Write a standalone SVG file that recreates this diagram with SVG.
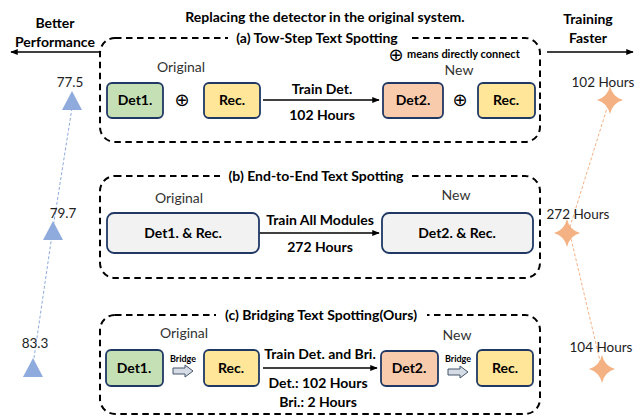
<svg xmlns="http://www.w3.org/2000/svg" width="640" height="417" viewBox="0 0 640 417">
<defs>
<style>
.t{font-family:Lato,"Liberation Sans",sans-serif;fill:#000}
.b{font-weight:bold}
.hdr{font-size:14px;font-weight:bold}
.lbl{font-size:14px;font-weight:bold}
.orig{font-size:14px;fill:#333}
.val{font-size:13.5px;fill:#222}
.frame{fill:none;stroke:#000;stroke-width:2;stroke-dasharray:6.5 4.5}
.node{stroke:#203864;stroke-width:1.8}
.g{fill:#c5e0b4}.y{fill:#ffe699}.o{fill:#f8cbad}.gr{fill:#f2f2f2}
.conn{stroke:#000;stroke-width:1.5;fill:none}
.sym{font-family:"DejaVu Sans",sans-serif;font-size:18px}
.bridge{fill:#d6dce5;stroke:#44546a;stroke-width:1}
</style>
<marker id="ah" viewBox="0 0 10 10" refX="9" refY="5" markerWidth="5" markerHeight="5" orient="auto-start-reverse"><path d="M0,1 L10,5 L0,9 Z" fill="#000"/></marker>
<path id="star" d="M0,-14 Q2.5,-3 13,0 Q2.5,3 0,14 Q-2.5,3 -13,0 Q-2.5,-3 0,-14 Z" fill="#f4b183"/>
<path id="tri" d="M0,-19 L10,0 L-10,0 Z" fill="#8faadc"/>
<path id="br" d="M0,-3 L12,-3 L12,-6 L20,0 L12,6 L12,3 L0,3 Z" class="bridge"/>
</defs>
<rect width="640" height="417" fill="#fff"/>

<!-- header -->
<text class="t hdr" x="325" y="22" text-anchor="middle">Replacing the detector in the original system.</text>
<text class="t hdr" x="55" y="28" text-anchor="middle">Better</text>
<text class="t hdr" x="55" y="47" text-anchor="middle">Performance</text>
<text class="t hdr" x="588" y="24" text-anchor="middle">Training</text>
<text class="t hdr" x="588" y="43" text-anchor="middle">Faster</text>

<g id="connectors">
<line class="conn" x1="100" y1="52" x2="11" y2="52" marker-end="url(#ah)"/>
<line class="conn" x1="547" y1="52" x2="633" y2="52" marker-end="url(#ah)"/>
<line class="conn" x1="263" y1="100" x2="379" y2="100" marker-end="url(#ah)"/>
<line class="conn" x1="259" y1="233" x2="379" y2="233" marker-end="url(#ah)"/>
<line class="conn" x1="263" y1="368" x2="377" y2="368" marker-end="url(#ah)"/>
<polyline points="72,108 53,228 33,365" fill="none" stroke="#8faadc" stroke-width="1" stroke-dasharray="3 2"/>
<polyline points="608,105 569,230 601,365" fill="none" stroke="#f4b183" stroke-width="1" stroke-dasharray="3 2"/>
</g>

<!-- frames -->
<g id="frame-a">
<rect class="frame" x="100" y="38" width="440" height="104" rx="15"/>
<rect x="228" y="30" width="180" height="16" fill="#fff"/>
<text class="t hdr" x="317" y="43" text-anchor="middle">(a) Tow-Step Text Spotting</text>
</g>
<g id="frame-b">
<rect class="frame" x="100" y="176" width="440" height="102" rx="15"/>
<rect x="220" y="168" width="192" height="16" fill="#fff"/>
<text class="t hdr" x="316" y="181" text-anchor="middle">(b) End-to-End Text Spotting</text>
</g>
<g id="frame-c">
<rect class="frame" x="100" y="315" width="440" height="99" rx="15"/>
<rect x="216" y="307" width="211" height="16" fill="#fff"/>
<text class="t hdr" x="321" y="320" text-anchor="middle">(c) Bridging Text Spotting(Ours)</text>
</g>

<!-- (a) -->
<text class="sym" x="396" y="61" text-anchor="middle" font-size="12">⊕</text>
<text class="t b" x="407" y="58" font-size="11">means directly connect</text>
<text class="t orig" x="181" y="72" text-anchor="middle">Original</text>
<text class="t orig" x="459" y="75" text-anchor="middle">New</text>
<g id="a-det1"><rect class="node g" x="107" y="83" width="56" height="35" rx="5"/><text class="t lbl" x="135" y="105" text-anchor="middle">Det1.</text></g>
<text class="sym" x="182" y="106" text-anchor="middle">⊕</text>
<g id="a-rec1"><rect class="node y" x="204" y="83" width="56" height="35" rx="5"/><text class="t lbl" x="232" y="105" text-anchor="middle">Rec.</text></g>
<text class="t lbl" x="322" y="94" text-anchor="middle">Train Det.</text>
<text class="t lbl" x="322" y="120" text-anchor="middle">102 Hours</text>
<g id="a-det2"><rect class="node o" x="383" y="83" width="60" height="35" rx="5"/><text class="t lbl" x="413" y="105" text-anchor="middle">Det2.</text></g>
<text class="sym" x="460" y="106" text-anchor="middle">⊕</text>
<g id="a-rec2"><rect class="node y" x="478" y="83" width="57" height="35" rx="5"/><text class="t lbl" x="506" y="105" text-anchor="middle">Rec.</text></g>

<!-- (b) -->
<text class="t orig" x="179" y="203" text-anchor="middle">Original</text>
<text class="t orig" x="456" y="200" text-anchor="middle">New</text>
<g id="b-old"><rect class="node gr" x="107" y="213" width="152" height="40" rx="7"/><text class="t lbl" x="183" y="238" text-anchor="middle">Det1. &amp; Rec.</text></g>
<text class="t lbl" x="320" y="225" text-anchor="middle">Train All Modules</text>
<text class="t lbl" x="320" y="252" text-anchor="middle">272 Hours</text>
<g id="b-new"><rect class="node gr" x="382" y="213" width="151" height="40" rx="7"/><text class="t lbl" x="457" y="238" text-anchor="middle">Det2. &amp; Rec.</text></g>

<!-- (c) -->
<text class="t orig" x="184" y="338" text-anchor="middle">Original</text>
<text class="t orig" x="457" y="340" text-anchor="middle">New</text>
<g id="c-det1"><rect class="node g" x="106" y="350" width="57" height="36" rx="5"/><text class="t lbl" x="134" y="373" text-anchor="middle">Det1.</text></g>
<text class="t b" x="183" y="362" font-size="9" text-anchor="middle">Bridge</text>
<use href="#br" x="173" y="371"/>
<g id="c-rec1"><rect class="node y" x="204" y="350" width="55" height="36" rx="5"/><text class="t lbl" x="231" y="373" text-anchor="middle">Rec.</text></g>
<text class="t lbl" x="320" y="359" text-anchor="middle">Train Det. and Bri.</text>
<text class="t lbl" x="318" y="388" text-anchor="middle">Det.: 102 Hours</text>
<text class="t lbl" x="318" y="407" text-anchor="middle">Bri.: 2 Hours</text>
<g id="c-det2"><rect class="node o" x="381" y="351" width="57" height="35" rx="5"/><text class="t lbl" x="409" y="373" text-anchor="middle">Det2.</text></g>
<text class="t b" x="458" y="362" font-size="9" text-anchor="middle">Bridge</text>
<use href="#br" x="448" y="372"/>
<g id="c-rec2"><rect class="node y" x="477" y="350" width="56" height="36" rx="5"/><text class="t lbl" x="505" y="373" text-anchor="middle">Rec.</text></g>

<!-- performance markers -->
<g id="perf-a"><use href="#tri" x="72" y="110"/><text class="t val" x="70" y="87" text-anchor="middle">77.5</text></g>
<g id="perf-b"><use href="#tri" x="53" y="240"/><text class="t val" x="63" y="218" text-anchor="middle">79.7</text></g>
<g id="perf-c"><use href="#tri" x="33" y="377"/><text class="t val" x="35" y="348" text-anchor="middle">83.3</text></g>

<!-- time markers -->
<g id="time-a"><use href="#star" x="610" y="100"/><text class="t val" x="603" y="87" text-anchor="middle">102 Hours</text></g>
<g id="time-b"><use href="#star" x="567" y="233"/><text class="t val" x="578" y="219" text-anchor="middle">272 Hours</text></g>
<g id="time-c"><use href="#star" x="602" y="369"/><text class="t val" x="601" y="352" text-anchor="middle">104 Hours</text></g>
</svg>
